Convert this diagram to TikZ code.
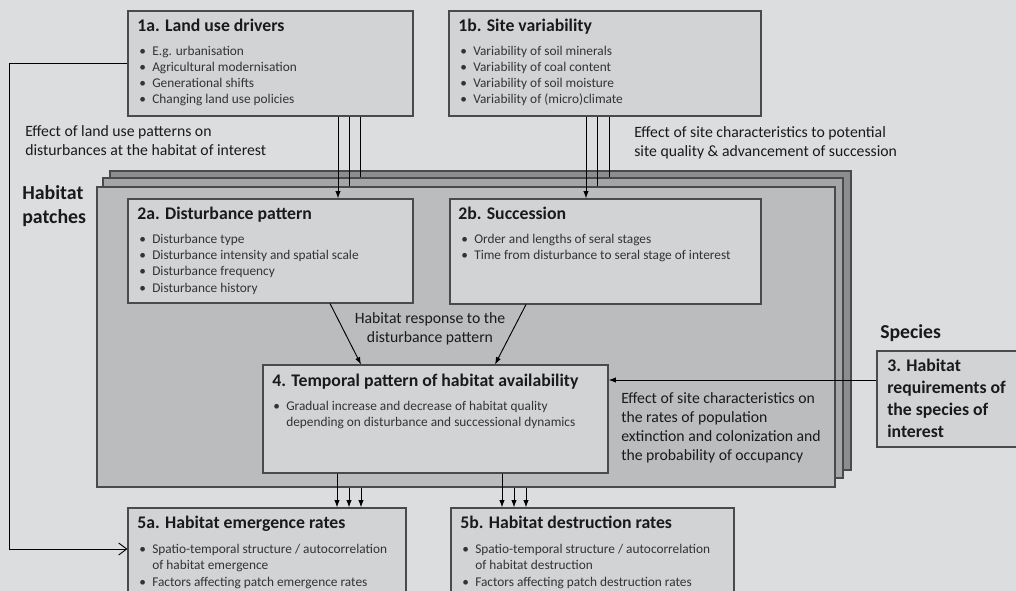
\documentclass[tikz,border=0pt]{standalone}
\usepackage{fontspec}
\setmainfont{Carlito}
\usetikzlibrary{fit,arrows.meta}
\definecolor{bg}{HTML}{DCDDDF}
\definecolor{boxfill}{HTML}{D2D3D5}
\definecolor{layA}{HTML}{BBBCBE}
\definecolor{layB}{HTML}{A4A5A7}
\definecolor{layC}{HTML}{8C8D8F}
\definecolor{edge}{HTML}{4A4A4A}
\definecolor{txt}{HTML}{1A1A1A}
\definecolor{itxt}{HTML}{333333}
\newcommand{\bitem}[4]{%
  \node[itm] (#1b) at (#2,#3) {•};
  \node[itm] (#1) at (#2+13,#3) {#4};}
\begin{document}
\begin{tikzpicture}[x=0.75pt,y=-0.75pt,
  box/.style={draw=edge, line width=0.8pt, fill=boxfill, inner sep=0pt},
  layer/.style={draw=edge, line width=0.9pt, inner sep=0pt},
  ttl/.style={anchor=base west, font=\fontsize{13.3}{16}\selectfont\bfseries, text=txt, inner sep=0pt},
  itm/.style={anchor=base west, font=\fontsize{10}{12}\selectfont, text=itxt, inner sep=0pt},
  lbl/.style={anchor=base west, font=\fontsize{11.8}{14}\selectfont, text=txt, inner sep=0pt},
  big/.style={anchor=base west, font=\fontsize{14.9}{18}\selectfont\bfseries, text=txt, inner sep=0pt},
  arr/.style={-{Latex[length=5.5pt,width=4pt]}, line width=0.7pt, draw=black},
  ln/.style={line width=0.7pt, draw=black},
  barb/.style={-{Straight Barb[length=6pt,width=9pt]}, line width=0.7pt, draw=black}
]
\useasboundingbox (0,0) rectangle (1016,591);
\clip (0,0) rectangle (1016,591);
\fill[bg] (0,0) rectangle (1016,591);

% stacked habitat patch layers
\node[layer, fill=layC, fit={(110,171) (851,470)}] (back) {};
\node[layer, fill=layB, fit={(103,178) (843,478)}] (mid) {};
\node[layer, fill=layA, fit={(97,187) (835,487)}] (front) {};

% boxes
\node[box, fit={(128,11) (413,116)}] (n1a) {};
\node[box, fit={(449,11) (761,116)}] (n1b) {};
\node[box, fit={(128,199) (413,303)}] (n2a) {};
\node[box, fit={(450,199) (761,304)}] (n2b) {};
\node[box, fit={(263,365) (608,473)}] (n4) {};
\node[box, fit={(877,351) (1030,447)}] (n3) {};
\node[box, fit={(128,508) (406,620)}] (n5a) {};
\node[box, fit={(451,508) (734,620)}] (n5b) {};

% box texts
\node[ttl] (t1a) at (137,31.5) {1a. Land use drivers};
\bitem{i1a1}{139}{56}{E.g. urbanisation}
\bitem{i1a2}{139}{72}{Agricultural modernisation}
\bitem{i1a3}{139}{88}{Generational shifts}
\bitem{i1a4}{139}{104}{Changing land use policies}

\node[ttl] (t1b) at (458,31.5) {1b. Site variability};
\bitem{i1b1}{460}{56}{Variability of soil minerals}
\bitem{i1b2}{460}{72}{Variability of coal content}
\bitem{i1b3}{460}{88}{Variability of soil moisture}
\bitem{i1b4}{460}{104}{Variability of (micro)climate}

\node[ttl] (t2a) at (137,219.5) {2a. Disturbance pattern};
\bitem{i2a1}{139}{244}{Disturbance type}
\bitem{i2a2}{139}{260}{Disturbance intensity and spatial scale}
\bitem{i2a3}{139}{276}{Disturbance frequency}
\bitem{i2a4}{139}{292}{Disturbance history}

\node[ttl] (t2b) at (458,219.5) {2b. Succession};
\bitem{i2b1}{461}{244}{Order and lengths of seral stages}
\bitem{i2b2}{461}{260}{Time from disturbance to seral stage of interest}

\node[ttl] (t4) at (272,386.5) {4. Temporal pattern of habitat availability};
\bitem{i41}{273}{410}{Gradual increase and decrease of habitat quality}
\node[itm] (i42) at (286,426) {depending on disturbance and successional dynamics};

\node[ttl] (t3a) at (887,371.5) {3. Habitat};
\node[ttl] (t3b) at (887,393.5) {requirements of};
\node[ttl] (t3c) at (887,415.5) {the species of};
\node[ttl] (t3d) at (887,437.5) {interest};

\node[ttl] (t5a) at (137,528.5) {5a. Habitat emergence rates};
\bitem{i5a1}{139}{553}{Spatio-temporal structure / autocorrelation}
\node[itm] (i5a2) at (152,569) {of habitat emergence};
\bitem{i5a3}{139}{586}{Factors affecting patch emergence rates}

\node[ttl] (t5b) at (460,528.5) {5b. Habitat destruction rates};
\bitem{i5b1}{462}{553}{Spatio-temporal structure / autocorrelation}
\node[itm] (i5b2) at (475,569) {of habitat destruction};
\bitem{i5b3}{462}{586}{Factors affecting patch destruction rates}

% free labels
\node[big] (hp1) at (22,199.5) {Habitat};
\node[big] (hp2) at (22,223.5) {patches};
\node[anchor=base west, font=\fontsize{14.8}{17}\selectfont\bfseries, text=txt, inner sep=0pt] (sp) at (880,338) {Species};

\node[lbl] (l1) at (25,137) {Effect of land use patterns on};
\node[lbl] (l2) at (25,156) {disturbances at the habitat of interest};
\node[lbl] (l3) at (634,138) {Effect of site characteristics to potential};
\node[lbl] (l4) at (634,157) {site quality \& advancement of succession};
\node[lbl, anchor=base] (l5) at (430,323) {Habitat response to the};
\node[lbl, anchor=base] (l6) at (430,342) {disturbance pattern};
\node[lbl] (l7) at (621,403) {Effect of site characteristics on};
\node[lbl] (l8) at (621,422) {the rates of population};
\node[lbl] (l9) at (621,441) {extinction and colonization and};
\node[lbl] (l10) at (621,460) {the probability of occupancy};

% x guides
\coordinate (xa1) at (338,0); \coordinate (xa2) at (349,0); \coordinate (xa3) at (360,0);
\coordinate (xb1) at (586,0); \coordinate (xb2) at (597,0); \coordinate (xb3) at (609,0);
\coordinate (xc1) at (337,0); \coordinate (xc2) at (349,0); \coordinate (xc3) at (361,0);
\coordinate (xd1) at (502,0); \coordinate (xd2) at (514,0); \coordinate (xd3) at (526,0);
\coordinate (s2a) at (330,0); \coordinate (e2a) at (361,0);
\coordinate (s2b) at (526,0); \coordinate (e2b) at (495,0);
\coordinate (y3) at (0,380); \coordinate (yf) at (0,549); \coordinate (xf) at (9,0);

% connectors from 1a and 1b into the stacked layers
\draw[ln] (xa3 |- n1a.south) -- (xa3 |- mid.north);
\draw[ln] (xa2 |- n1a.south) -- (xa2 |- front.north);
\draw[arr] (xa1 |- n1a.south) -- (xa1 |- n2a.north);
\draw[ln] (xb3 |- n1b.south) -- (xb3 |- mid.north);
\draw[ln] (xb2 |- n1b.south) -- (xb2 |- front.north);
\draw[arr] (xb1 |- n1b.south) -- (xb1 |- n2b.north);

% 2a, 2b -> 4
\draw[arr] (s2a |- n2a.south) -- (e2a |- n4.north);
\draw[arr] (s2b |- n2b.south) -- (e2b |- n4.north);

% 3 -> 4
\draw[arr] (n3.west |- y3) -- (n4.east |- y3);

% down to 5a, 5b
\draw[arr] (xc1 |- n4.south) -- (xc1 |- n5a.north);
\draw[arr] (xc2 |- front.south) -- (xc2 |- n5a.north);
\draw[arr] (xc3 |- front.south) -- (xc3 |- n5a.north);
\draw[arr] (xd1 |- n4.south) -- (xd1 |- n5b.north);
\draw[arr] (xd2 |- front.south) -- (xd2 |- n5b.north);
\draw[arr] (xd3 |- front.south) -- (xd3 |- n5b.north);

% feedback 1a -> 5a
\draw[barb] (n1a.west) -- (xf |- n1a.west) -- (xf |- yf) -- (n5a.west |- yf);
\end{tikzpicture}
\end{document}
